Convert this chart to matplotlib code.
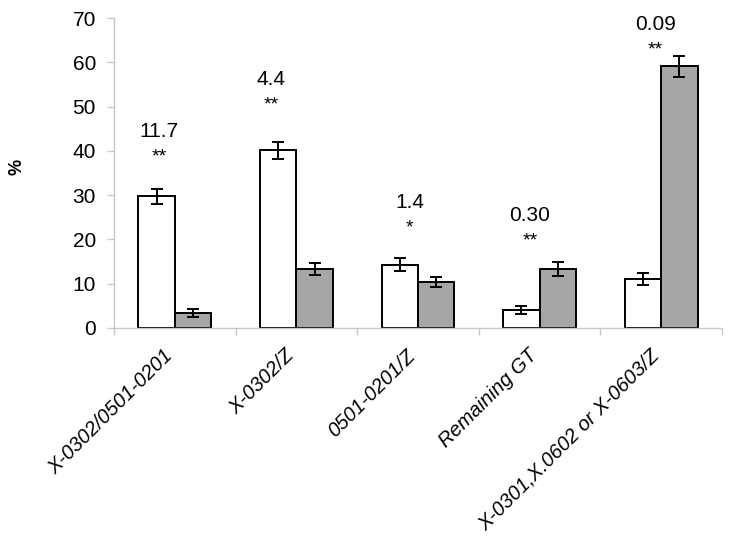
import matplotlib.pyplot as plt
import matplotlib.transforms as mtransforms
import numpy as np

plt.rcParams['font.family'] = ['Liberation Sans', 'DejaVu Sans']

# Data
categories = ["X-0302/0501-0201", "X-0302/Z", "0501-0201/Z", "Remaining GT",
              "X-0301,X.0602 or X-0603/Z"]
white_vals = [29.8, 40.1, 14.3, 4.1, 11.1]
white_err = [1.7, 2.0, 1.4, 0.9, 1.3]
gray_vals = [3.4, 13.3, 10.4, 13.3, 59.1]
gray_err = [0.9, 1.4, 1.2, 1.6, 2.4]
ratio_labels = ["11.7", "4.4", "1.4", "0.30", "0.09"]
stars = ["**", "**", "*", "**", "**"]
label_x = [-0.13, 0.79, 1.93, 2.92, 3.95]
label_y = [43.1, 54.9, 27.1, 24.2, 67.3]

fig = plt.figure(figsize=(7.29, 5.39), dpi=100)
ax = fig.add_axes([0.1564, 0.3915, 0.834, 0.575])

x = np.arange(len(categories))
w = 0.3
err_kw = dict(ecolor="black", elinewidth=1.4, capsize=4.5, capthick=1.4)
ax.bar(x - w / 2, white_vals, w, yerr=white_err, color="white",
       edgecolor="black", linewidth=1.4, error_kw=err_kw)
ax.bar(x + w / 2, gray_vals, w, yerr=gray_err, color="#a6a6a6",
       edgecolor="black", linewidth=1.4, error_kw=err_kw)

for lx, ly, txt, st in zip(label_x, label_y, ratio_labels, stars):
    ax.text(lx, ly, txt, ha="center", va="baseline", fontsize=15)
    ax.text(lx, ly - 5.6, st, ha="center", va="baseline", fontsize=14)

ax.set_xlim(-0.5, len(categories) - 0.5)
ax.set_ylim(0, 70)
ax.set_yticks(range(0, 71, 10))
ax.tick_params(axis="y", labelsize=15, color="#c8c8c8", length=5, width=1, pad=8)

ax.set_xticks(x)
ax.set_xticklabels(categories, rotation=45, ha="right", va="top",
                   rotation_mode="anchor", fontsize=14.5, style="italic")
ax.tick_params(axis="x", length=0, pad=13)
shift = mtransforms.ScaledTranslation(-12 / 100, 0, fig.dpi_scale_trans)
for lab in ax.get_xticklabels():
    lab.set_transform(lab.get_transform() + shift)
ax.set_xticks(np.arange(-0.5, len(categories), 1.0), minor=True)
ax.tick_params(axis="x", which="minor", length=5, color="#c8c8c8", width=1)

for side in ["top", "right"]:
    ax.spines[side].set_visible(False)
for side in ["left", "bottom"]:
    ax.spines[side].set_color("#c8c8c8")
    ax.spines[side].set_linewidth(1)

fig.text(0.024, 0.69, "%", rotation=90, fontsize=13, fontweight="bold",
         ha="center", va="center")

fig.savefig("out.png", dpi=100)
